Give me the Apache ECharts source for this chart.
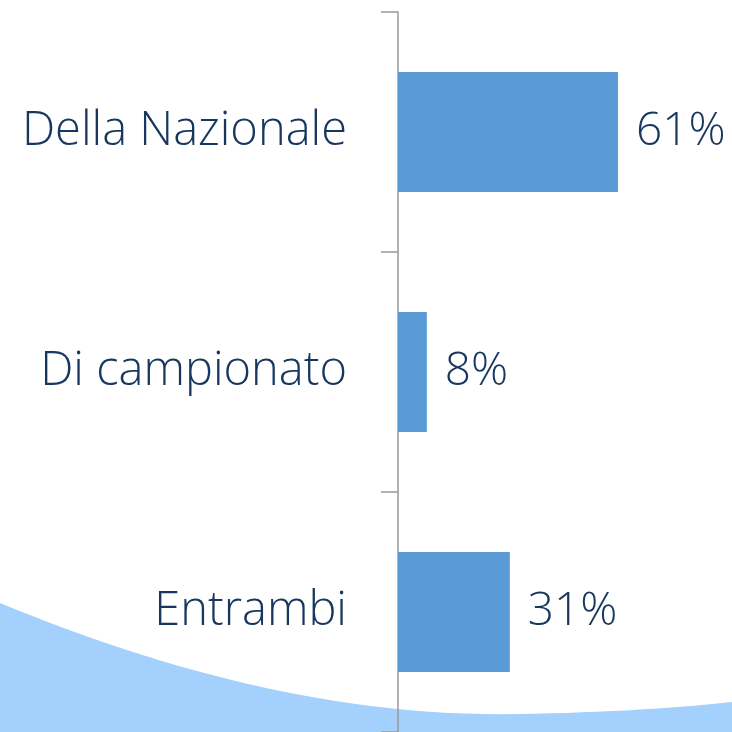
<!DOCTYPE html>
<html>
<head>
<meta charset="utf-8">
<script src="https://cdn.jsdelivr.net/npm/echarts@6/dist/echarts.min.js"></script>
<style>
  html, body { margin: 0; padding: 0; background: #fff; }
  #chart { width: 732px; height: 732px; }
</style>
</head>
<body>
<div id="chart"></div>
<script>
// dati del grafico
const categories = ['Della Nazionale', 'Di campionato', 'Entrambi']
const percentages = [61, 8, 31]

const textColor = '#17375e'

// contorno dell'onda decorativa (non sono dati)
function wavePoints() {
  const pts = []
  const c = [[0, 603], [150, 665], [330, 718], [520, 714]]
  for (let i = 0; i <= 30; i++) {
    const t = i / 30, u = 1 - t
    pts.push([
      u * u * u * c[0][0] + 3 * u * u * t * c[1][0] + 3 * u * t * t * c[2][0] + t * t * t * c[3][0],
      u * u * u * c[0][1] + 3 * u * u * t * c[1][1] + 3 * u * t * t * c[2][1] + t * t * t * c[3][1]
    ])
  }
  const q = [[520, 714], [640, 712], [732, 702]]
  for (let i = 1; i <= 15; i++) {
    const t = i / 15, u = 1 - t
    pts.push([
      u * u * q[0][0] + 2 * u * t * q[1][0] + t * t * q[2][0],
      u * u * q[0][1] + 2 * u * t * q[1][1] + t * t * q[2][1]
    ])
  }
  pts.push([732, 732], [0, 732])
  return pts
}

const chart = echarts.init(document.getElementById('chart'))

chart.setOption({
  animation: false,
  backgroundColor: '#fff',
  graphic: [{
    type: 'polygon',
    z: -10,
    silent: true,
    shape: { points: wavePoints() },
    style: { fill: '#a3d0fc' }
  }],
  grid: {
    left: 398,
    top: 12,
    right: 0,
    bottom: -2
  },
  xAxis: {
    type: 'value',
    min: 0,
    max: 92.6,
    show: false
  },
  yAxis: {
    type: 'category',
    inverse: true,
    data: categories,
    axisLine: {
      show: true,
      lineStyle: { color: '#999', width: 1.5 }
    },
    axisTick: {
      show: true,
      length: 17,
      lineStyle: { color: '#999', width: 1.5 }
    },
    axisLabel: {
      margin: 51,
      color: textColor,
      fontFamily: 'Open Sans',
      fontWeight: 300,
      fontSize: 47
    }
  },
  series: [{
    type: 'bar',
    data: percentages,
    barWidth: '50%',
    itemStyle: { color: '#5b9bd5' },
    label: {
      show: true,
      position: 'right',
      distance: 18,
      color: textColor,
      fontFamily: 'Open Sans',
      fontWeight: 300,
      fontSize: 46,
      formatter: p => p.value + '%'
    }
  }]
})
</script>
</body>
</html>
